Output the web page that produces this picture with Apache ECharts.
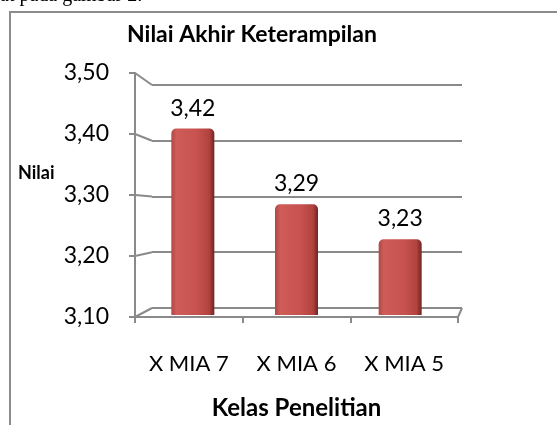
<!DOCTYPE html>
<html>
<head>
<meta charset="utf-8">
<script src="https://cdn.jsdelivr.net/npm/echarts@6/dist/echarts.min.js"></script>
<style>
	html, body { margin: 0; padding: 0; background: #fff; }
	#chart { width: 557px; height: 425px; }
</style>
</head>
<body>
<div id="chart"></div>
<script>
var categories = ['X MIA 7', 'X MIA 6', 'X MIA 5'];
var nilai = [3.42, 3.29, 3.23];
var yTicks = [3.1, 3.2, 3.3, 3.4, 3.5];
var yMin = 3.1;
var yMax = 3.5;
var yStep = 0.1;

var FONT = 'Lato';
var GRAY = '#8a8a8a';

function koma(v) {
	return v.toFixed(2).replace('.', ',');
}

var barColor = {
	type: 'linear', x: 0, y: 0, x2: 1, y2: 0,
	colorStops: [
		{ offset: 0, color: '#b04845' },
		{ offset: 0.12, color: '#cf5c58' },
		{ offset: 0.6, color: '#c7524f' },
		{ offset: 0.88, color: '#b2423f' },
		{ offset: 1, color: '#6e2624' }
	]
};

var baseGraphics = [
	{
		type: 'rect',
		shape: { x: 10, y: 12, width: 570, height: 440 },
		style: { fill: null, stroke: '#8c8c8c', lineWidth: 2 },
		z: -1
	},
	{
		type: 'text',
		left: 18,
		top: 164,
		style: { text: 'Nilai', font: 'bold 18px ' + FONT, fill: '#000' }
	},
	{
		type: 'text',
		left: 0,
		top: -14,
		style: { text: 'at pada gambar 2.', font: '20px "Liberation Serif"', fill: '#000' }
	}
];

var chart = echarts.init(document.getElementById('chart'), null, { renderer: 'canvas' });

chart.setOption({
	animation: false,
	textStyle: { fontFamily: FONT },
	title: {
		text: 'Nilai Akhir Keterampilan',
		left: 122,
		top: 18,
		textStyle: { fontFamily: FONT, fontSize: 23, fontWeight: 'bold', color: '#000' }
	},
	grid: [
		// front axes
		{ left: 135, right: 99, top: 73, bottom: 105 },
		// back wall
		{ left: 152, right: 95, top: 85, bottom: 117 },
		// bars (between front and back)
		{ left: 141, right: 105, top: 82, bottom: 110 }
	],
	xAxis: [
		{
			gridIndex: 0,
			type: 'category',
			data: categories,
			axisLine: { lineStyle: { color: GRAY, width: 2 } },
			axisTick: { show: true, length: 6, lineStyle: { color: GRAY, width: 2 } },
			axisLabel: { color: '#000', fontSize: 22, margin: 36, interval: 0, hideOverlap: false, fontFamily: FONT },
			name: 'Kelas Penelitian',
			nameLocation: 'middle',
			nameGap: 79,
			nameTextStyle: { fontFamily: FONT, fontSize: 24, fontWeight: 'bold', color: '#000' }
		},
		{ gridIndex: 1, type: 'category', data: categories, show: false },
		{ gridIndex: 2, type: 'category', data: categories, show: false }
	],
	yAxis: [
		{
			gridIndex: 0,
			type: 'value',
			min: yMin, max: yMax, interval: yStep,
			axisLine: { show: true, lineStyle: { color: GRAY, width: 2 } },
			axisTick: { show: true, length: 6, lineStyle: { color: GRAY, width: 2 } },
			splitLine: { show: false },
			axisLabel: { color: '#000', fontSize: 23, margin: 26, fontFamily: FONT, formatter: koma }
		},
		{
			gridIndex: 1,
			type: 'value',
			min: yMin, max: yMax, interval: yStep,
			axisLine: { show: false },
			axisTick: { show: false },
			axisLabel: { show: false },
			splitLine: { show: true, lineStyle: { color: GRAY, width: 2 } }
		},
		{
			gridIndex: 2,
			type: 'value',
			min: yMin, max: yMax, interval: yStep,
			show: false
		}
	],
	series: [
		{
			type: 'bar',
			xAxisIndex: 2,
			yAxisIndex: 2,
			data: nilai,
			barWidth: 43,
			itemStyle: { color: barColor, borderRadius: [5, 5, 0, 0] },
			label: {
				show: true,
				position: 'top',
				distance: 9,
				color: '#000',
				fontSize: 23,
				fontFamily: FONT,
				formatter: function (p) { return koma(p.value); }
			}
		}
	],
	graphic: baseGraphics
});

// 3D-look connectors from the front axis ticks to the back wall lines
var model = chart.getModel();
var frontRect = model.getComponent('grid', 0).coordinateSystem.getRect();
var backRect = model.getComponent('grid', 1).coordinateSystem.getRect();
var links = [];
for (var i = 0; i < yTicks.length; i++) {
	var yf = chart.convertToPixel({ gridIndex: 0 }, [0, yTicks[i]])[1];
	var yb = chart.convertToPixel({ gridIndex: 1 }, [0, yTicks[i]])[1];
	links.push({
		type: 'line',
		shape: { x1: frontRect.x, y1: yf, x2: backRect.x, y2: yb },
		style: { stroke: GRAY, lineWidth: 2 }
	});
}
links.push({
	type: 'line',
	shape: {
		x1: frontRect.x + frontRect.width, y1: frontRect.y + frontRect.height,
		x2: backRect.x + backRect.width, y2: backRect.y + backRect.height
	},
	style: { stroke: GRAY, lineWidth: 2 }
});
chart.setOption({ graphic: baseGraphics.concat(links) });
</script>
</body>
</html>
